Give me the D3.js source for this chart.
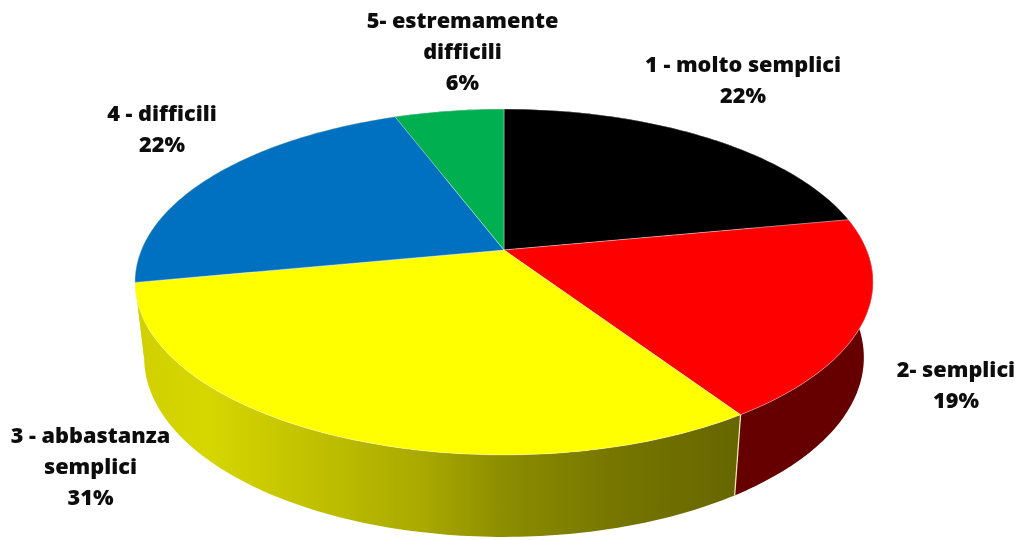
<!DOCTYPE html>
<html>
<head>
<meta charset="utf-8">
<script src="https://cdn.jsdelivr.net/npm/d3@7"></script>
<style>
html,body{margin:0;padding:0;background:#fff;}
svg{display:block;filter:blur(0.4px);}
text{font-family:"Open Sans","Noto Sans",sans-serif;font-weight:800;font-size:21.7px;fill:#0d0d0d;text-anchor:middle;}
</style>
</head>
<body>
<svg id="chart" width="1020" height="540"></svg>
<script>
const categories = ["1 - molto semplici","2- semplici","3 - abbastanza semplici","4 - difficili","5- estremamente difficili"];
const values = [22,18.7,31.3,22.27,5.73];
const topColors = ["#000000","#ff0000","#ffff00","#0070c0","#00b050"];
const sideColors = ["#000000","#660000","url(#yellowSide)","url(#yellowSide)","#005a28"];
const labelLines = [["1 - molto semplici"],["2- semplici"],["3 - abbastanza","semplici"],["4 - difficili"],["5- estremamente","difficili"]];
const labelPos = [[743,64],[956,369],[90.5,435],[162,113],[462.5,20]];
const gradientStops = [[0,"#d0d000"],[0.12,"#d6d600"],[0.3,"#c0c000"],[0.48,"#a8a800"],[0.6,"#8e8e00"],[0.8,"#757500"],[1,"#666600"]];

const svg = d3.select("#chart");
const cx = 504, cy = 250, rxP = 362.7, ryP = 167, k = 0.185;

function project(theta){
  const u = Math.sin(theta), v = -Math.cos(theta), d = 1 - k*v;
  return [cx + rxP*u/d, cy + ryP*v/d, v];
}
function projectBottom(theta){
  const p = project(theta);
  return [cx + (p[0]-cx)*0.975, p[1] + 74 + 8*p[2]];
}
function samples(a0,a1){
  const n = Math.max(2, Math.ceil((a1-a0)*60));
  return d3.range(n+1).map(i => a0 + (a1-a0)*i/n);
}

const pie = d3.pie().sort(null)(values);
const line = d3.line();

const grad = svg.append("defs").append("linearGradient")
  .attr("id","yellowSide").attr("gradientUnits","userSpaceOnUse")
  .attr("x1",135).attr("x2",741).attr("y1",0).attr("y2",0);
grad.selectAll("stop").data(gradientStops).join("stop")
  .attr("offset",d=>d[0]).attr("stop-color",d=>d[1]);

// side walls
svg.append("g").selectAll("path").data(pie).join("path")
  .attr("d",d=>{
    const s = samples(d.startAngle,d.endAngle);
    return line(s.map(project).concat(s.slice().reverse().map(projectBottom)))+"Z";
  })
  .attr("fill",(d,i)=>sideColors[i]);

// pale divider on the front wall
svg.append("g").selectAll("line").data(pie.filter(d=>Math.cos(d.endAngle)<0 && Math.abs(Math.sin(d.endAngle))<0.9)).join("line")
  .attr("x1",d=>project(d.endAngle)[0]).attr("y1",d=>project(d.endAngle)[1])
  .attr("x2",d=>projectBottom(d.endAngle)[0]).attr("y2",d=>projectBottom(d.endAngle)[1])
  .attr("stroke","#f2eebb").attr("stroke-width",1.2);

// top face
svg.append("g").selectAll("path").data(pie).join("path")
  .attr("d",d=>line([[cx,cy]].concat(samples(d.startAngle,d.endAngle).map(project)))+"Z")
  .attr("fill",(d,i)=>topColors[i])
  .attr("stroke","#ffffff").attr("stroke-opacity",0.45).attr("stroke-width",0.8).attr("stroke-linejoin","round");

// labels
const lh = 31;
const lab = svg.append("g").selectAll("text").data(pie).join("text")
  .attr("transform",(d,i)=>`translate(${labelPos[i][0]},${labelPos[i][1]})`);
lab.each(function(d,i){
  const t = d3.select(this);
  labelLines[i].concat([Math.round(d.value)+"%"]).forEach((s,j)=>{
    t.append("tspan").attr("x",0).attr("y",j*lh).attr("dy","0.35em").text(s);
  });
});
</script>
</body>
</html>
